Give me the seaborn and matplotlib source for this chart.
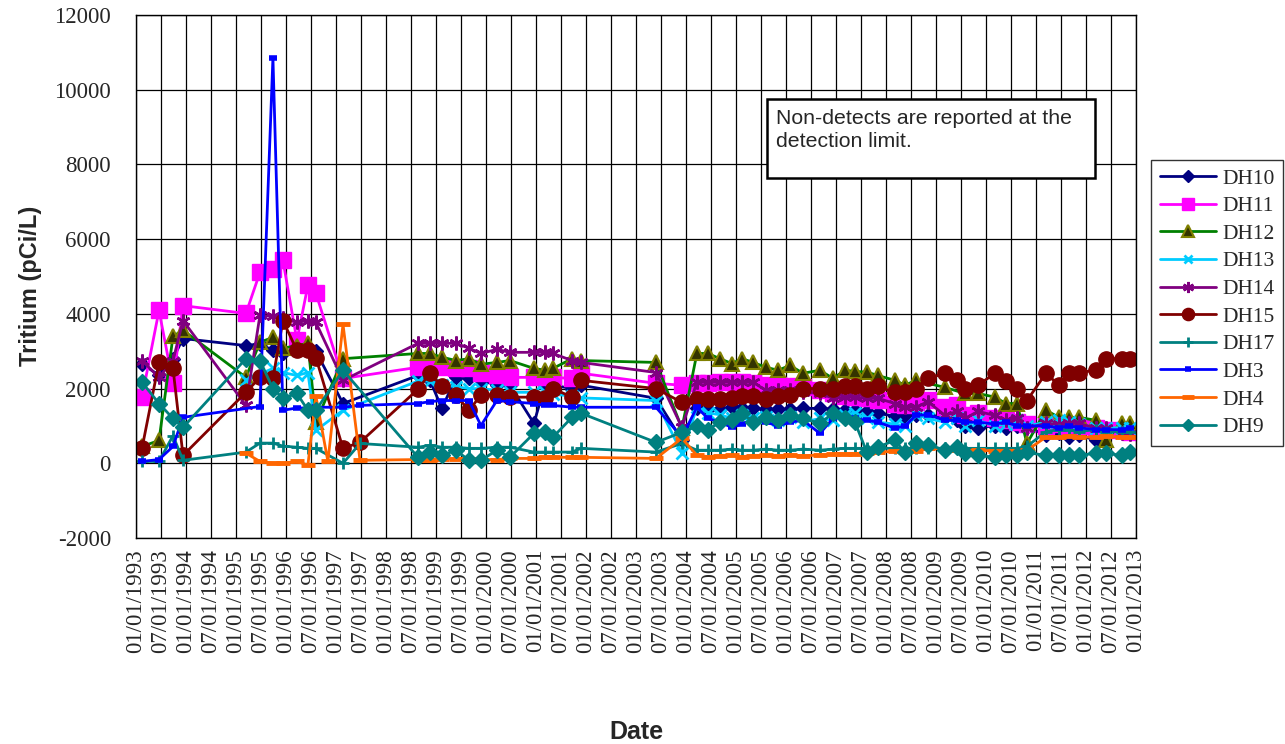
import numpy as np
import pandas as pd
import matplotlib
matplotlib.use("Agg")
import matplotlib.pyplot as plt
import matplotlib.dates as mdates
from matplotlib.patches import Rectangle
import seaborn as sns

# Sampling dates (decimal years)
early_dates = [1993.12, 1993.46, 1993.74, 1993.94, 1995.20, 1995.48, 1995.74, 1995.94,
               1996.22, 1996.44, 1996.60, 1996.84, 1997.14, 1997.48, 1998.64, 1998.88,
               1999.12, 1999.40, 1999.66, 1999.90, 2000.22, 2000.48, 2000.96, 2001.18,
               2001.34, 2001.72, 2001.90, 2003.40, 2003.92]
late_dates = [2004.22, 2004.44, 2004.68, 2004.92, 2005.12, 2005.34, 2005.60, 2005.84,
              2006.08, 2006.34, 2006.68, 2006.94, 2007.18, 2007.38, 2007.62, 2007.84,
              2008.18, 2008.38, 2008.60, 2008.84, 2009.18, 2009.42, 2009.58, 2009.84,
              2010.18, 2010.40, 2010.62, 2010.82, 2011.20, 2011.46, 2011.66, 2011.86,
              2012.20, 2012.40, 2012.72, 2012.88]

N = None
# Tritium results (pCi/L), early period then late period
dh10_early = [2670, 2350, 2800, 3340, 3150, 3200, 3020, 2940, 3100, 3100, 3000, N, 1600, N,
              2350, 2220, 1470, 2300, 2270, 2220, 2090, 2090, 1070, 2090, 2090, 2000, 2090, 1740, 620]
dh10_late = [1470, 1440, 1440, 1500, 1470, 1470, 1450, 1440, 1450, 1470, 1470, 1450, 1420, 1420,
             1400, 1340, 1260, 1230, 1280, 1280, 1230, 1150, 1010, 940, 1010, 940, 1010, 980,
             750, 800, 700, 750, 620, 750, 880, 880]

dh11_early = [1770, 4090, 2140, 4220, 4010, 5110, 5190, 5430, 3290, 4760, 4550, N, 2270, N,
              2570, 2570, 2570, 2540, 2540, 2430, 2350, 2300, 2300, 2300, 2300, 2270, 2410, 2140, 2090]
dh11_late = [2140, 2140, 2170, 2170, 2170, 2140, 2090, 2090, 2060, 2030, 1950, 1870, 1800, 1770,
             1740, 1700, 1600, 1550, 1650, 1700, 1500, 1550, 1300, 1350, 1200, 1150, 1100, 1050,
             1000, 1050, 1000, 1000, 950, 900, 900, 850]

dh12_early = [450, 610, 3400, 3560, 2300, 3240, 3370, 3080, 3150, 3210, 1100, N, 2800, N,
              2940, 2940, 2840, 2750, 2800, 2650, 2700, 2750, 2540, 2490, 2540, 2800, 2750, 2700, 940]
dh12_late = [2940, 2940, 2800, 2670, 2800, 2700, 2570, 2490, 2620, 2410, 2490, 2270, 2490, 2460,
             2440, 2350, 2220, 2090, 2220, N, 2030, N, 1870, 1870, 1770, 1600, 1600, 530,
             1420, 1230, 1230, 1230, 1150, 620, 1070, 1070]

dh13_early = [N, N, N, N, 2220, N, 2540, 2430, 2350, 2430, 880, N, 1420, N,
              2200, 2200, 2100, 2050, 2000, 2000, 1950, 1900, 1900, 1900, 1850, 1800, 1750, 1680, 270]
dh13_late = [1500, 1350, 1300, 1200, 1300, 1200, 1250, 1150, 1250, 1100, 1200, 1150, 1300, 1350,
             1200, 1100, 1050, 1000, 1300, 1200, 1100, 1200, 1000, 1150, 1000, 1050, 1150, 1000,
             1100, 1150, 1100, 1050, 950, 950, 950, 950]

dh14_early = [2750, 2300, 2750, 3820, 1550, 3960, 3930, 3900, 3770, 3820, 3770, N, 2220, N,
              3210, 3210, 3210, 3210, 3080, 2940, 3050, 2970, 2970, 2970, 2940, 2750, 2700, 2430, 960]
dh14_late = [2170, 2170, 2170, 2170, 2170, 2170, 1950, 1950, 1950, 1900, 1870, 1740, 1770, 1770,
             1740, 1740, 1600, 1500, 1500, 1650, 1280, 1390, 1200, 1390, 1280, 1150, 1200, 940,
             1070, 1040, 1070, 1070, 940, 940, 800, 780]

dh15_early = [400, 2700, 2540, 210, 1900, 2300, 2270, 3820, 3020, 3020, 2830, N, 400, 560,
              1980, 2410, 2060, 1820, 1420, 1820, 1840, 1770, 1770, 1740, 2000, 1770, 2220, 2000, 1630]
dh15_late = [1710, 1710, 1710, 1740, 1790, 1790, 1710, 1790, 1820, 2000, 2000, 2000, 2060, 2060,
             2000, 2060, 1900, 1900, 2000, 2270, 2410, 2220, 2000, 2090, 2410, 2190, 2000, 1680,
             2410, 2090, 2410, 2410, 2510, 2800, 2800, 2800]

dh17_early = [50, 50, 740, 80, 300, 540, 540, 460, 430, 400, 400, N, 0, 530,
              430, 480, 430, 430, 400, 400, 430, 430, 300, 300, 300, 300, 400, 300, 530]
dh17_late = [350, 350, 350, 380, 350, 350, 380, 350, 350, 380, 350, 380, 400, 400,
             400, 400, 400, 400, 400, 400, 400, 430, 400, 400, 400, 400, 400, 450,
             850, 900, 900, 850, 900, 850, 850, 850]

dh3_early = [50, 100, 450, 1230, N, 1520, 10850, 1420, 1480, 1480, 1500, N, 1500, 1550,
             1600, 1650, 1680, 1680, 1680, 1010, 1680, 1650, 1600, 1550, 1550, 1500, 1500, 1500, 700]
dh3_late = [1500, 1200, 1100, 960, 1050, 1150, 1100, 1000, 1100, 1150, 800, 1200, 1250, 1200,
            1150, 1100, 940, 1000, 1280, 1300, 1150, 1150, 1100, 1100, 1050, 1100, 1000, 1000,
            1000, 950, 1000, 950, 900, 900, 900, 950]

dh4_early = [N, N, N, N, 270, 50, 0, 0, 50, -50, 1800, 50, 3720, 80,
             100, 100, 120, 120, 120, 100, 100, 130, 130, 160, 160, 160, 160, 130, 670]
dh4_late = [210, 180, 200, 220, 180, 200, 220, 200, 230, 200, 220, 250, 250, 260,
            280, 300, 320, 300, 330, 400, 380, 350, 330, 350, 330, 320, 330, 350,
            700, 700, 720, 700, 700, 720, 700, 700]

dh9_early = [2170, 1600, 1200, 960, 2800, 2750, 2000, 1740, 1870, 1420, 1420, N, 2490, N,
             160, 290, 210, 350, 80, 80, 350, 160, 800, 850, 700, 1230, 1340, 560, 830]
dh9_late = [990, 900, 1100, 1150, 1340, 1100, 1230, 1150, 1280, 1200, 1070, 1340, 1200, 1100,
            290, 430, 620, 290, 530, 500, 350, 430, 270, 210, 160, 210, 210, 290,
            210, 210, 210, 210, 270, 270, 210, 290]

wells = ["DH10", "DH11", "DH12", "DH13", "DH14", "DH15", "DH17", "DH3", "DH4", "DH9"]
series = {
    "DH10": dh10_early + dh10_late, "DH11": dh11_early + dh11_late,
    "DH12": dh12_early + dh12_late, "DH13": dh13_early + dh13_late,
    "DH14": dh14_early + dh14_late, "DH15": dh15_early + dh15_late,
    "DH17": dh17_early + dh17_late, "DH3": dh3_early + dh3_late,
    "DH4": dh4_early + dh4_late, "DH9": dh9_early + dh9_late,
}


def to_timestamp(dec_year):
    year = int(dec_year)
    return pd.Timestamp(year=year, month=1, day=1) + pd.Timedelta(days=(dec_year - year) * 365.25)


all_dates = [to_timestamp(d) for d in early_dates + late_dates]
rows = []
for w in wells:
    for d, v in zip(all_dates, series[w]):
        if v is not None:
            rows.append({"well": w, "date": d, "tritium": v})
df = pd.DataFrame(rows)

styles = {
    "DH10": dict(color="#000080", marker="D", markersize=7.5, mfc="#000080", mec="#000080"),
    "DH11": dict(color="#FF00FF", marker="s", markersize=11, mfc="#FF00FF", mec="#FF00FF"),
    "DH12": dict(color="#008000", marker="^", markersize=10, mfc="#333300", mec="#808000", mew=1.5),
    "DH13": dict(color="#00CCFF", marker="x", markersize=8, mfc="#00CCFF", mec="#00CCFF", mew=2),
    "DH14": dict(color="#800080", marker=(6, 2, 0), markersize=10, mfc="#800080", mec="#800080", mew=1.8),
    "DH15": dict(color="#800000", marker="o", markersize=11, mfc="#800000", mec="#800000"),
    "DH17": dict(color="#008080", marker="+", markersize=9, mfc="#008080", mec="#008080", mew=2),
    "DH3": dict(color="#0000FF", marker="_", markersize=6, mfc="#0000FF", mec="#0000FF", mew=4),
    "DH4": dict(color="#FF6600", marker="_", markersize=10, mfc="#FF6600", mec="#FF6600", mew=3.5),
    "DH9": dict(color="#008080", marker="D", markersize=8, mfc="#008080", mec="#008080"),
}

sns.set_style("white")
plt.rcParams["axes.unicode_minus"] = False
fig = plt.figure(figsize=(12.85, 7.44), dpi=100)
ax = fig.add_axes([136 / 1285, 1 - 538 / 744, 1000 / 1285, 523 / 744])

for w in wells:
    st = styles[w]
    sub = df[df["well"] == w]
    sns.lineplot(data=sub, x="date", y="tritium", ax=ax, estimator=None, sort=True,
                 color=st["color"], marker=st["marker"], markersize=st["markersize"],
                 markerfacecolor=st["mfc"], markeredgecolor=st["mec"],
                 markeredgewidth=st.get("mew", 1.0), linewidth=2.0, label=w)

ax.set_xlim(pd.Timestamp("1993-01-01"), pd.Timestamp("2013-01-01"))
ax.set_ylim(-2000, 12000)
ax.set_yticks(np.arange(-2000, 12001, 2000))
ax.xaxis.set_major_locator(mdates.MonthLocator(bymonth=[1, 7], bymonthday=1))
ax.xaxis.set_major_formatter(mdates.DateFormatter("%m/%d/%Y"))

serif = "Liberation Serif"
sans = "Liberation Sans"
for lab in ax.get_xticklabels():
    lab.set_rotation(90)
    lab.set_fontfamily(serif)
    lab.set_fontsize(16.5)
for lab in ax.get_yticklabels():
    lab.set_fontfamily(serif)
    lab.set_fontsize(16.5)

ax.tick_params(axis="y", direction="out", length=7, width=1, color="black", pad=11)
ax.tick_params(axis="x", direction="out", length=6, width=1, color="black", pad=2)
ax.grid(True, color="black", linewidth=0.9)
ax.set_axisbelow(True)
for sp in ax.spines.values():
    sp.set_color("black")
    sp.set_linewidth(1.0)

ax.set_xlabel("Date", fontfamily=sans, fontweight="bold", fontsize=18)
ax.xaxis.set_label_coords(0.5, -(720 - 538) / 523)
ax.set_ylabel("Tritium (pCi/L)", fontfamily=sans, fontweight="bold", fontsize=17)
ax.yaxis.set_label_coords(-0.094, 0.483)

leg = ax.legend(loc="upper left", bbox_to_anchor=(1151 / 1285, 1 - 160 / 744),
                bbox_transform=fig.transFigure, prop={"family": serif, "size": 15.5},
                frameon=True, fancybox=False, shadow=False, borderaxespad=0,
                handlelength=2.6, handletextpad=0.3, labelspacing=0.35, borderpad=0.4,
                markerscale=0.8)
leg.get_frame().set_edgecolor("black")
leg.get_frame().set_linewidth(1.0)

# Note box
fig.patches.append(Rectangle((767 / 1285, 1 - 178 / 744), 328 / 1285, 79 / 744,
                             transform=fig.transFigure, facecolor="white",
                             edgecolor="black", linewidth=1.8, zorder=5))
fig.text(776 / 1285, 1 - 109 / 744, "Non-detects are reported at the\ndetection limit.",
         fontfamily=sans, fontsize=15.3, va="top", ha="left", linespacing=1.25, zorder=6)

fig.savefig("out.png", dpi=100, facecolor="white")
